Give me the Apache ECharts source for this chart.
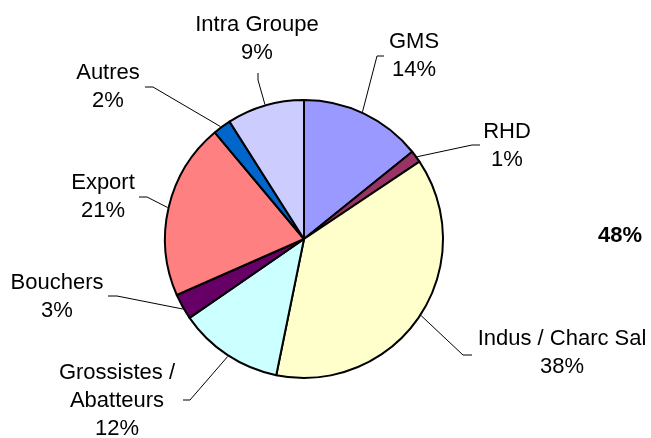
<!DOCTYPE html>
<html>
<head>
<meta charset="utf-8">
<script src="https://cdn.jsdelivr.net/npm/echarts@6/dist/echarts.min.js"></script>
<style>
  html, body { margin: 0; padding: 0; background: #fff; }
  #chart { width: 651px; height: 438px; }
</style>
</head>
<body>
<div id="chart"></div>
<script>
// data (share of volume, %)
const categories = ['GMS', 'RHD', 'Indus / Charc Sal', 'Grossistes /\nAbatteurs',
  'Bouchers', 'Export', 'Autres', 'Intra Groupe']
const values = [14.2, 1.4, 37.6, 12.2, 3.0, 20.5, 2.1, 9.0]
const colors = ['#9999FF', '#993366', '#FFFFCC', '#CCFFFF', '#660066', '#FF8080', '#0066CC', '#CCCCFF']
const sideNote = '48%'

// where each label sits and how its leader is bent (layout only)
const labelPos = [[414, 56], [507, 146], [562, 353], [117, 401], [57, 297], [103, 197], [108, 87], [257, 39]]
const leaderAngle = [24.7, 54, 123.2, 213, 240, 283, 323.4, 343.8]
const leaderBend = [
  [[377, 56], [384, 56]],
  [[472, 145], [480, 145]],
  [[463, 355], [472, 355]],
  [[190, 400], [183, 400]],
  [[117, 296], [108, 296]],
  [[147, 197], [139, 197]],
  [[153, 87], [145, 87]],
  [[258, 80], [258, 73]]
]

const cx = 304, cy = 239, r = 139
const font = '"Liberation Sans", Arial, sans-serif'

let dom = echarts.init(document.getElementById('chart'))

let option = {
  backgroundColor: '#fff',
  animation: false,
  color: colors,
  graphic: [{
    type: 'text',
    x: 620,
    y: 236,
    style: {
      text: sideNote,
      font: 'bold 22px ' + font,
      fill: '#000',
      align: 'center',
      verticalAlign: 'middle'
    }
  }],
  series: [{
    type: 'pie',
    center: [cx, cy],
    radius: r,
    startAngle: 90,
    clockwise: true,
    avoidLabelOverlap: false,
    emphasis: { disabled: true },
    itemStyle: { borderColor: '#000', borderWidth: 2 },
    label: {
      show: true,
      position: 'outside',
      color: '#000',
      fontFamily: font,
      fontSize: 22,
      lineHeight: 28,
      align: 'center',
      formatter: function (p) {
        return p.name + '\n' + Math.round(p.percent) + '%'
      }
    },
    labelLine: {
      show: true,
      lineStyle: { color: '#000', width: 1 }
    },
    labelLayout: function (params) {
      let i = params.dataIndex
      let a = leaderAngle[i] * Math.PI / 180
      let start = [cx + (r + 1) * Math.sin(a), cy - (r + 1) * Math.cos(a)]
      return {
        x: labelPos[i][0],
        y: labelPos[i][1],
        align: 'center',
        verticalAlign: 'middle',
        labelLinePoints: [start, leaderBend[i][0], leaderBend[i][1]]
      }
    },
    data: categories.map(function (name, i) {
      return { name: name, value: values[i] }
    })
  }]
}

dom.setOption(option)
</script>
</body>
</html>
